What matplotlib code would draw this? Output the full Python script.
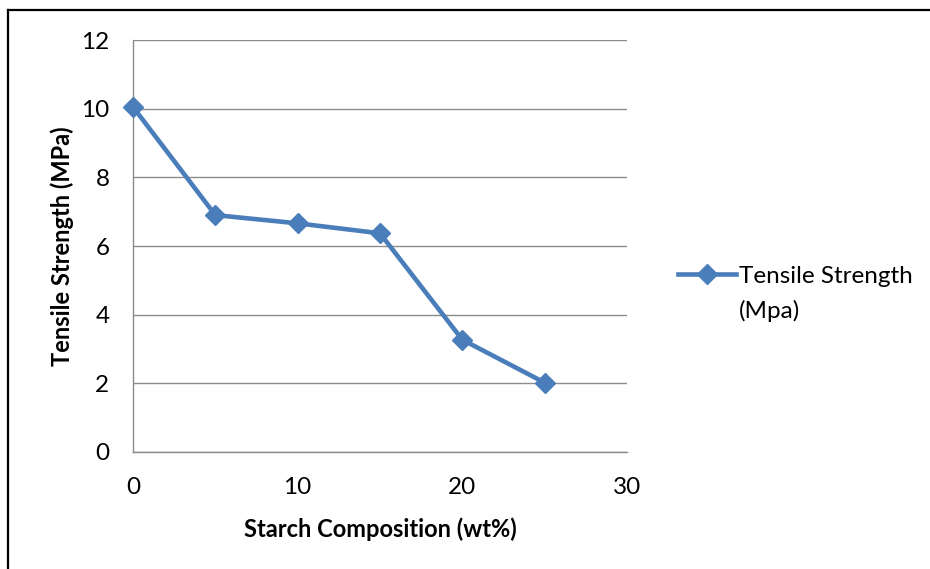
import matplotlib.pyplot as plt
from matplotlib.lines import Line2D

# starch content vs tensile strength
starch = [0, 5, 10, 15, 20, 25]
tensile = [10.05, 6.9, 6.66, 6.37, 3.27, 2.02]
xticks = [0, 10, 20, 30]
yticks = [0, 2, 4, 6, 8, 10, 12]

blue = '#4a7ebb'
grid_grey = '#8c8c8c'

plt.rcParams['font.family'] = ['Lato', 'DejaVu Sans']

fig = plt.figure(figsize=(9.3, 5.69), dpi=100)
ax = fig.add_axes([133 / 930, 1 - 452 / 569, (627 - 133) / 930, (452 - 40) / 569])

ax.plot(starch, tensile, color=blue, lw=3.3, marker='D', markersize=10.5,
        label='Tensile Strength', zorder=3, clip_on=False)

ax.set_xlim(0, 30)
ax.set_ylim(0, 12)
ax.set_xticks(xticks)
ax.set_yticks(yticks)
ax.tick_params(length=0, labelsize=17.5, pad=18)
ax.tick_params(axis='y', pad=17)
ax.grid(axis='y', color=grid_grey, lw=1)
ax.set_axisbelow(True)
for s in ['top', 'right']:
    ax.spines[s].set_visible(False)
for s in ['left', 'bottom']:
    ax.spines[s].set_color(grid_grey)
    ax.spines[s].set_linewidth(1)

ax.set_xlabel('Starch Composition (wt%)', fontsize=17, fontweight='bold', labelpad=14)
ax.set_ylabel('Tensile Strength (MPa)', fontsize=17, fontweight='bold', labelpad=5)

leg = ax.legend(loc='center left', bbox_to_anchor=(678 / 930, 1 - 276 / 569),
                bbox_transform=fig.transFigure, frameon=False, fontsize=17.5,
                handlelength=2.4, handletextpad=0.1, numpoints=1, borderpad=0,
                borderaxespad=0)

# second line of the legend label, lined up under the first
fig.canvas.draw()
tb = leg.get_texts()[0].get_window_extent()
fig.text(tb.x0 / 930, 1 - 311 / 569, '(Mpa)', fontsize=17.5, va='center', ha='left')

# outer frame (only top and left are visible in the original)
fig.add_artist(Line2D([8 / 930, 8 / 930], [0, 1 - 10 / 569], color='black', lw=1.6))
fig.add_artist(Line2D([8 / 930, 1], [1 - 10 / 569, 1 - 10 / 569], color='black', lw=1.6))

fig.savefig('out.png', dpi=100)
